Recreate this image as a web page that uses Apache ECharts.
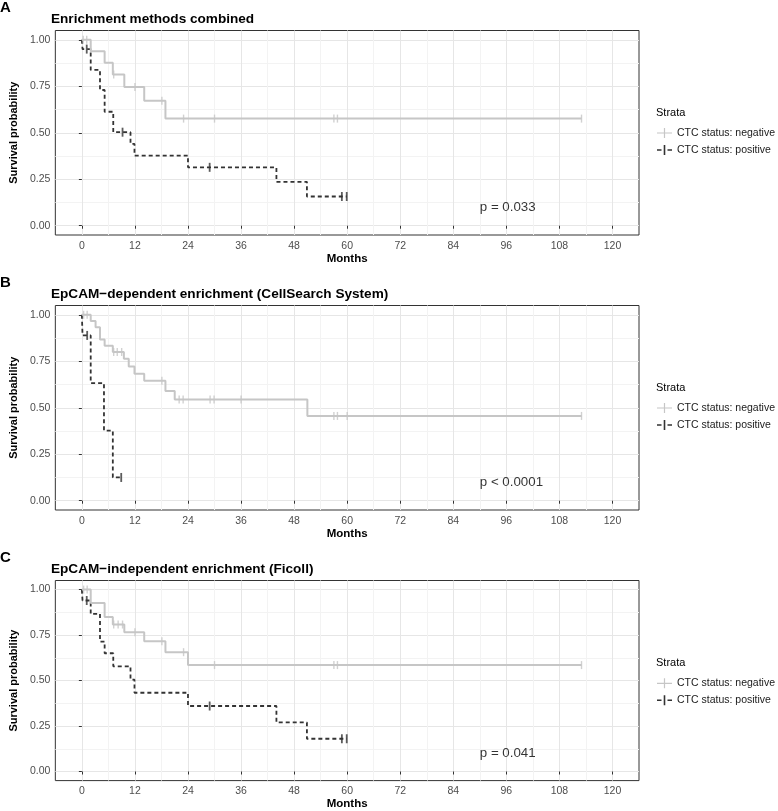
<!DOCTYPE html>
<html>
  <head>
    <meta charset="utf-8">
    <title>Kaplan-Meier CTC status</title>
    <style type="text/css">
    html, body {margin:0;padding:0;background:#fff;}
    #km {width:778px;height:811px;}
    </style>
    <script src="https://cdn.jsdelivr.net/npm/echarts@6/dist/echarts.min.js"></script>
  </head>
  <body>
    <div id="km"></div>
    <script type="text/javascript">
      // axis ticks
      var monthTicks = [0, 12, 24, 36, 48, 60, 72, 84, 96, 108, 120];
      var monthMinor = [6, 18, 30, 42, 54, 66, 78, 90, 102, 114];
      var probTicks = [0, 0.25, 0.5, 0.75, 1];
      var probMinor = [0.125, 0.375, 0.625, 0.875];

      var strata = ['CTC status: negative', 'CTC status: positive'];
      var panelLetters = ['A', 'B', 'C'];
      var panelTitles = ['Enrichment methods combined',
                         'EpCAM\u2212dependent enrichment (CellSearch System)',
                         'EpCAM\u2212independent enrichment (Ficoll)'];
      var pValues = ['p = 0.033', 'p < 0.0001', 'p = 0.041'];
      var pValuePos = [90, 0.1];

      // A: methods combined
      var aNegTime = [0, 2.0, 5.15, 7.0, 9.6, 14.1, 18.9, 113];
      var aNegSurv = [1, 0.938, 0.876, 0.813, 0.746, 0.672, 0.576, 0.576];
      var aNegCens = [0.3, 1.1, 7.2, 12.0, 18.1, 23.0, 30.0, 57.0, 57.8, 113];
      var aPosTime = [0, 0.15, 2.0, 4.1, 5.15, 7.1, 11.0, 11.9, 24.0, 44.0, 50.9, 59.9];
      var aPosSurv = [1, 0.95, 0.838, 0.73, 0.613, 0.503, 0.44, 0.377, 0.314, 0.236, 0.157, 0.157];
      var aPosCens = [1.1, 9.2, 28.9, 58.8, 59.9];

      // B: CellSearch
      var bNegTime = [0, 2.0, 3.1, 4.1, 5.15, 7.0, 9.5, 10.6, 11.9, 14.1, 18.9, 21.0, 51.0, 113];
      var bNegSurv = [1, 0.967, 0.933, 0.867, 0.833, 0.80, 0.763, 0.722, 0.683, 0.645, 0.59, 0.545, 0.456, 0.456];
      var bNegCens = [0.4, 1.2, 7.2, 8.0, 9.0, 18.1, 22.0, 22.9, 29.0, 29.9, 36.0, 57.0, 57.8, 60.0, 113];
      var bPosTime = [0, 0.15, 2.0, 5.0, 7.0, 8.9];
      var bPosSurv = [1, 0.889, 0.632, 0.377, 0.125, 0.125];
      var bPosCens = [1.2, 8.9];

      // C: Ficoll
      var cNegTime = [0, 2.0, 5.15, 7.0, 9.6, 14.1, 18.9, 24.0, 113];
      var cNegSurv = [1, 0.926, 0.849, 0.808, 0.766, 0.716, 0.656, 0.585, 0.585];
      var cNegCens = [0.4, 1.2, 7.2, 8.2, 9.2, 12.0, 18.1, 23.0, 30.0, 57.0, 57.8, 113];
      var cPosTime = [0, 0.15, 2.0, 4.1, 5.15, 7.1, 11.0, 11.9, 24.0, 44.0, 50.9, 59.9];
      var cPosSurv = [1, 0.94, 0.866, 0.714, 0.65, 0.578, 0.505, 0.433, 0.36, 0.27, 0.18, 0.18];
      var cPosCens = [1.1, 28.9, 58.8, 59.9];

      var curves = [
        [[aNegTime, aNegSurv, aNegCens], [aPosTime, aPosSurv, aPosCens]],
        [[bNegTime, bNegSurv, bNegCens], [bPosTime, bPosSurv, bPosCens]],
        [[cNegTime, cNegSurv, cNegCens], [cPosTime, cPosSurv, cPosCens]]
      ];

      var FONT = 'Liberation Sans, Arial, sans-serif';
      var GREY = '#c6c6c6', DARK = '#333333';
      var gridTops = [30.5, 305.5, 580.5];
      var gridH = 204.5;
      var strataY = [113, 388, 663.3];

      function survAt(t, s, x) {
        var v = s[0];
        for (var i = 0; i < t.length; i++) { if (t[i] <= x) v = s[i]; }
        return v;
      }

      var grids = [], xAxes = [], yAxes = [], series = [], legends = [], graphics = [];
      for (var p = 0; p < 3; p++) {
        grids.push({left: 51, width: 588, top: gridTops[p], height: gridH,
                    show: true, borderColor: '#333', borderWidth: 1});
        xAxes[p] = {
          type: 'value', gridIndex: p, min: -6, max: 126,
          axisLine: {show: false},
          axisTick: {length: 3, lineStyle: {color: '#333'}, customValues: monthTicks},
          axisLabel: {customValues: monthTicks, margin: 5.5, fontSize: 10.5, color: '#4d4d4d', fontFamily: FONT},
          splitLine: {show: true, lineStyle: {color: '#e6e6e6', width: 1}},
          name: 'Months', nameLocation: 'middle', nameGap: 16.5,
          nameTextStyle: {fontWeight: 'bold', fontSize: 11.5, color: '#000', fontFamily: FONT}
        };
        xAxes[p + 3] = {
          type: 'value', gridIndex: p, min: -6, max: 126,
          axisLine: {show: false},
          axisTick: {show: false, customValues: monthMinor},
          axisLabel: {show: false, customValues: monthMinor},
          splitLine: {show: true, lineStyle: {color: '#f3f3f3', width: 1}}
        };
        yAxes[p] = {
          type: 'value', gridIndex: p, min: -0.05, max: 1.05,
          axisLine: {show: false},
          axisTick: {length: 3, lineStyle: {color: '#333'}, customValues: probTicks},
          axisLabel: {customValues: probTicks, margin: 5, fontSize: 10.5, color: '#4d4d4d', fontFamily: FONT,
                      formatter: function (v) { return v.toFixed(2); }},
          splitLine: {show: true, lineStyle: {color: '#e6e6e6', width: 1}},
          name: 'Survival probability', nameLocation: 'middle', nameGap: 28, nameRotate: 90,
          nameTextStyle: {fontWeight: 'bold', fontSize: 11, color: '#000', fontFamily: FONT}
        };
        yAxes[p + 3] = {
          type: 'value', gridIndex: p, min: -0.05, max: 1.05,
          axisLine: {show: false},
          axisTick: {show: false, customValues: probMinor},
          axisLabel: {show: false, customValues: probMinor},
          splitLine: {show: true, lineStyle: {color: '#f3f3f3', width: 1}}
        };

        for (var g = 0; g < 2; g++) {
          var c = curves[p][g];
          var col = g === 0 ? GREY : DARK;
          series.push({
            name: strata[g], type: 'line', step: 'end', xAxisIndex: p, yAxisIndex: p,
            data: c[0].map(function (t, i) { return [t, this[i]]; }, c[1]),
            symbol: 'none', z: g === 0 ? 3 : 2,
            itemStyle: {color: col},
            lineStyle: g === 0 ? {color: col, width: 2} : {color: col, width: 1.8, type: [4, 3]}
          });
          series.push({
            name: strata[g], type: 'scatter', xAxisIndex: p, yAxisIndex: p,
            data: c[2].map(function (t) { return [t, survAt(this[0], this[1], t)]; }, c),
            symbol: 'rect', symbolSize: g === 0 ? [1.4, 8] : [1.8, 9], z: 4,
            itemStyle: {color: col}, silent: true
          });
        }
        series.push({
          type: 'scatter', xAxisIndex: p, yAxisIndex: p, symbolSize: 0, silent: true,
          data: [pValuePos],
          label: {show: true, position: 'right', distance: 0, formatter: pValues[p],
                  fontSize: 13.3, color: '#000', fontFamily: FONT}
        });

        legends.push({
          left: 657, top: strataY[p] + 14, orient: 'vertical', padding: 0,
          itemWidth: 15, itemHeight: 10, itemGap: 5, selectedMode: false,
          textStyle: {fontSize: 10.5, lineHeight: 12, color: '#1a1a1a', fontFamily: FONT},
          data: [
            {name: strata[0], icon: 'path://M0,4.4H15V5.6H0Z M6.9,0H8.1V10H6.9Z',
             itemStyle: {color: GREY, borderWidth: 0}},
            {name: strata[1], icon: 'path://M0,4.3H4.5V5.7H0Z M10.5,4.3H15V5.7H10.5Z M6.7,0H8.3V10H6.7Z',
             itemStyle: {color: DARK, borderWidth: 0}}
          ]
        });

        var panelTop = gridTops[p];
        graphics.push({type: 'text', x: 0, y: panelTop - 22.5,
          style: {text: panelLetters[p], font: 'bold 15px ' + FONT, fill: '#000', verticalAlign: 'middle'}});
        graphics.push({type: 'text', x: 51, y: panelTop - 11.5,
          style: {text: panelTitles[p], font: 'bold 13.6px ' + FONT, fill: '#000', verticalAlign: 'middle'}});
        graphics.push({type: 'text', x: 656, y: strataY[p],
          style: {text: 'Strata', font: '11px ' + FONT, fill: '#000', verticalAlign: 'middle'}});
      }

      var chart = echarts.init(document.getElementById('km'));
      chart.setOption({
        backgroundColor: '#fff',
        animation: false,
        grid: grids,
        xAxis: xAxes,
        yAxis: yAxes,
        legend: legends,
        graphic: {elements: graphics},
        series: series
      });
    </script>
  </body>
</html>
